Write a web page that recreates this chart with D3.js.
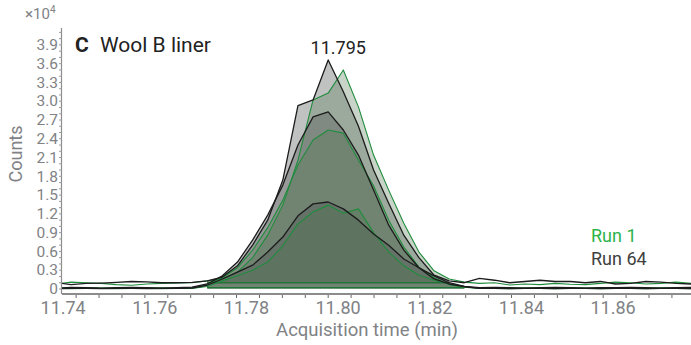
<!DOCTYPE html>
<html>
<head>
<meta charset="utf-8">
<script src="https://cdn.jsdelivr.net/npm/d3@7/dist/d3.min.js"></script>
<style>
  body { margin: 0; background: #fff; }
  svg { display: block; font-family: Roboto, "Noto Sans", sans-serif; }
</style>
</head>
<body>
<svg id="chart" width="691" height="345"></svg>
<script>
// Acquisition times (min) of the scans
const times = [
  11.7323, 11.7356, 11.7389, 11.7422, 11.7455, 11.7488, 11.7521, 11.7554, 11.7587, 11.7620,
  11.7653, 11.7686, 11.7719, 11.7752, 11.7785, 11.7818, 11.7851, 11.7884, 11.7917, 11.7950,
  11.7983, 11.8016, 11.8049, 11.8082, 11.8115, 11.8148, 11.8181, 11.8214, 11.8247, 11.8280,
  11.8313, 11.8346, 11.8379, 11.8412, 11.8445, 11.8478, 11.8511, 11.8544, 11.8577, 11.8610,
  11.8643, 11.8676, 11.8709, 11.8742, 11.8775
];

// Run 64 (black) – three ion traces
const run64IonA = [
  1100, 1050, 700, 900, 950, 1050, 1200, 1150, 1000, 1000,
  1050, 1300, 1900, 3700, 7000, 11000, 17400, 29300, 30200, 36600,
  31500, 26000, 19000, 13700, 8600, 5000, 2200, 1300, 1000, 1700,
  1400, 1000, 1200, 1400, 1200, 1200, 1000, 1200, 800, 900,
  1200, 1100, 900, 800, 900
];
const run64IonB = [
  200, 150, 250, 200, 150, 200, 250, 200, 150, 200,
  300, 800, 2100, 4300, 7800, 11800, 16600, 23000, 27500, 28300,
  25400, 21400, 15800, 10200, 6200, 3400, 1600, 800, 400, 200,
  250, 200, 150, 200, 250, 200, 150, 200, 200, 250,
  200, 150, 200, 250, 200
];
const run64IonC = [
  100, 50, 100, 100, 50, 100, 100, 50, 100, 100,
  150, 600, 1600, 2700, 3800, 5900, 8300, 11700, 13600, 13900,
  12800, 11000, 8800, 7000, 4800, 3400, 2100, 1000, 400, 100,
  100, 50, 100, 100, 50, 100, 100, 50, 100, 100,
  50, 100, 100, 50, 100
];

// Run 1 (green) – three ion traces
const run1IonA = [
  800, 800, 1100, 1000, 900, 700, 600, 800, 900, 950,
  1000, 1300, 1600, 2700, 5000, 8600, 13400, 20600, 30200, 31300,
  35000, 29100, 21400, 15800, 10500, 5900, 2900, 1600, 1100, 900,
  1000, 650, 800, 700, 900, 750, 700, 900, 1100, 1000,
  800, 900, 1100, 900, 800
];
const run1IonB = [
  150, 200, 150, 200, 150, 150, 200, 150, 200, 150,
  250, 700, 1800, 3400, 6200, 9800, 14200, 19800, 23800, 25400,
  24900, 20600, 16500, 11000, 6700, 3500, 1800, 700, 300, 150,
  200, 150, 200, 150, 150, 200, 150, 200, 150, 200,
  150, 200, 150, 200, 150
];
const run1IonC = [
  100, 100, 50, 100, 100, 50, 100, 100, 50, 100,
  100, 400, 1300, 2100, 3000, 4300, 6900, 10400, 12300, 13400,
  12100, 12800, 9000, 5900, 3700, 2200, 1400, 800, 300, 100,
  100, 50, 100, 100, 50, 100, 100, 50, 100, 100,
  50, 100, 100, 50, 100
];

// Integration windows (index into times) and their baselines (counts)
const windowMain = [11, 27];
const windowMinor = [11, 28];
const baseMain = 1000;
const baseMinor = 200;

const xTickValues = [11.74, 11.76, 11.78, 11.80, 11.82, 11.84, 11.86];
const yTickValues = [0, 3000, 6000, 9000, 12000, 15000, 18000, 21000, 24000, 27000, 30000, 33000, 36000, 39000];
const apexTime = 11.795;
const apexCounts = 36600;

const runs = [
  { name: "Run 1", color: "#2db34a" },
  { name: "Run 64", color: "#404040" }
];

const traces = [
  { values: run64IonA, black: true,  win: windowMain,  base: baseMain },
  { values: run1IonA,  black: false, win: windowMain,  base: baseMain },
  { values: run64IonB, black: true,  win: windowMinor, base: baseMinor },
  { values: run1IonB,  black: false, win: windowMinor, base: baseMinor },
  { values: run64IonC, black: true,  win: windowMinor, base: baseMinor },
  { values: run1IonC,  black: false, win: windowMinor, base: baseMinor }
];

const plotLeft = 62, plotRight = 691, plotTop = 28, plotBottom = 294;

const x = d3.scaleLinear()
  .domain([11.795 - (328.2 - plotLeft) / 4583, 11.795 + (plotRight - 328.2) / 4583])
  .range([plotLeft, plotRight]);
const y = d3.scaleLinear().domain([-800, 41700]).range([plotBottom, plotTop]);

const svg = d3.select("#chart");

svg.append("defs").append("clipPath").attr("id", "plotClip")
  .append("rect").attr("x", plotLeft).attr("y", 0)
  .attr("width", plotRight - plotLeft).attr("height", plotBottom - 0.5);

const plot = svg.append("g").attr("clip-path", "url(#plotClip)");

const fillBlack = "rgba(80,82,82,0.36)";
const fillGreen = "rgba(82,122,82,0.32)";
const strokeBlack = "#1c1c1c";
const strokeGreen = "#1f8c3d";

// peak areas
traces.forEach(tr => {
  const pts = d3.range(tr.win[0], tr.win[1] + 1).map(i => ({ t: times[i], v: tr.values[i] }));
  const area = d3.area().x(d => x(d.t)).y0(y(tr.base)).y1(d => y(d.v));
  plot.append("path").attr("d", area(pts))
    .attr("fill", tr.black ? fillBlack : fillGreen);
});

// integration baselines
traces.forEach(tr => {
  plot.append("line")
    .attr("x1", x(times[tr.win[0]])).attr("x2", x(times[tr.win[1]]))
    .attr("y1", y(tr.base)).attr("y2", y(tr.base))
    .attr("stroke", tr.black ? strokeBlack : strokeGreen)
    .attr("stroke-width", 1);
});

// traces
const line = d3.line().x((d, i) => x(times[i])).y(d => y(d));
[1, 3, 5, 0, 2, 4].forEach(k => {
  const tr = traces[k];
  plot.append("path").attr("d", line(tr.values))
    .attr("fill", "none")
    .attr("stroke", tr.black ? strokeBlack : strokeGreen)
    .attr("stroke-width", tr.black ? 1.3 : 1.1)
    .attr("stroke-linejoin", "round");
});

// x axis
const axisGray = "#8c8c8c";
svg.append("line").attr("x1", plotLeft).attr("x2", plotRight).attr("y1", plotBottom).attr("y2", plotBottom)
  .attr("stroke", axisGray).attr("stroke-width", 2);
const minorX = d3.range(0, 28).map(k => 11.74 + k * 0.005);
svg.append("g").selectAll("line").data(minorX).join("line")
  .attr("x1", d => x(d)).attr("x2", d => x(d))
  .attr("y1", plotBottom + 1).attr("y2", plotBottom + 4)
  .attr("stroke", "#666").attr("stroke-width", 1);
svg.append("g").selectAll("text").data(xTickValues).join("text")
  .attr("x", d => x(d) - 13).attr("y", 314)
  .attr("text-anchor", "middle").attr("font-size", 18).attr("fill", "#808285")
  .text(d => d.toFixed(2));
svg.append("text").attr("x", 367).attr("y", 336).attr("text-anchor", "middle")
  .attr("font-size", 18.5).attr("fill", "#808285").text("Acquisition time (min)");

// y axis
svg.append("line").attr("x1", plotLeft - 0.5).attr("x2", plotLeft - 0.5).attr("y1", plotTop).attr("y2", plotBottom)
  .attr("stroke", axisGray).attr("stroke-width", 1.2);
const minorY = d3.range(0, 41001, 1000);
svg.append("g").selectAll("line").data(minorY).join("line")
  .attr("x1", plotLeft - 3).attr("x2", plotLeft)
  .attr("y1", d => y(d)).attr("y2", d => y(d))
  .attr("stroke", "#9a9a9a").attr("stroke-width", 1);
svg.append("g").selectAll("text").data(yTickValues).join("text")
  .attr("x", 58).attr("y", d => y(d) + 5.2)
  .attr("text-anchor", "end").attr("font-size", 15.5).attr("fill", "#808285")
  .text(d => d === 0 ? "0" : (d / 10000).toFixed(1));
const mult = svg.append("text").attr("x", 25).attr("y", 19).attr("font-size", 15).attr("fill", "#808285");
mult.append("tspan").text("×10");
mult.append("tspan").attr("font-size", 10).attr("dy", -6).text("4");
svg.append("text").attr("transform", "translate(22,154) rotate(-90)")
  .attr("text-anchor", "middle").attr("font-size", 18).attr("fill", "#808285").text("Counts");

// title
svg.append("text").attr("x", 75).attr("y", 52).attr("font-size", 21).attr("font-weight", "bold")
  .attr("fill", "#222").text("C");
svg.append("text").attr("x", 100).attr("y", 52).attr("font-size", 21)
  .attr("fill", "#222").text("Wool B liner");

// apex label
svg.append("text").attr("x", x(apexTime) + 10).attr("y", y(apexCounts) - 6)
  .attr("text-anchor", "middle").attr("font-size", 18).attr("fill", "#222")
  .text(apexTime.toFixed(3));

// legend
svg.append("g").selectAll("text").data(runs).join("text")
  .attr("x", 591).attr("y", (d, i) => 242 + i * 22.5)
  .attr("font-size", 18).attr("fill", d => d.color).text(d => d.name);
</script>
</body>
</html>
